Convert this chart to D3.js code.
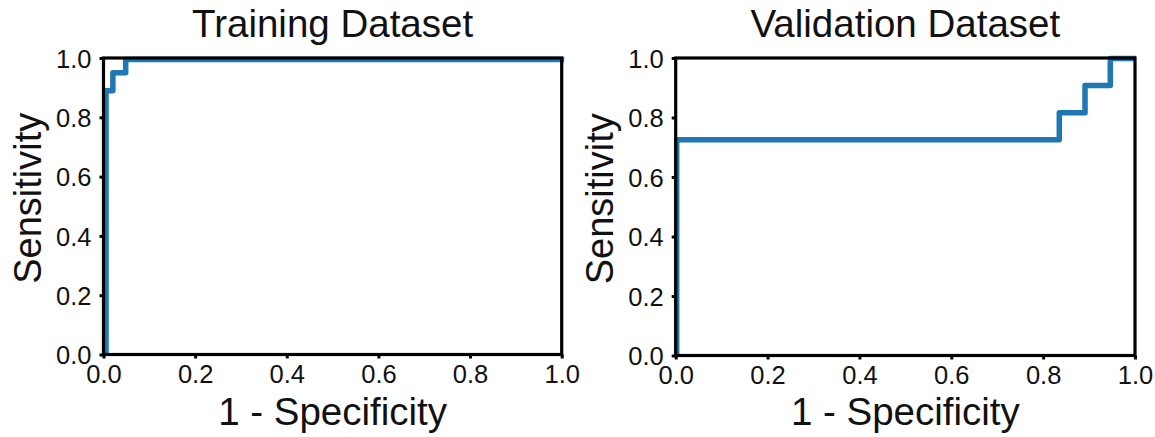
<!DOCTYPE html>
<html><head><meta charset="utf-8">
<script src="https://cdn.jsdelivr.net/npm/d3@7"></script>
<style>
html,body{margin:0;padding:0;background:#fff;}
svg{display:block;font-family:"Liberation Sans",Arial,Helvetica,sans-serif;}
</style></head>
<body><svg id="c" width="1155" height="437"></svg>
<script>
// ---- data ----
const titles = ["Training Dataset", "Validation Dataset"];
const xLabel = "1 - Specificity";
const yLabel = "Sensitivity";
const tickValues = [0, 0.2, 0.4, 0.6, 0.8, 1.0];
const trainFPR = [0, 0, 0.015, 0.015, 0.043, 0.043, 1];
const trainTPR = [0, 0.895, 0.895, 0.955, 0.955, 1, 1];
const validFPR = [0, 0, 0.833, 0.833, 0.889, 0.889, 0.944, 0.944, 1];
const validTPR = [0, 0.727, 0.727, 0.818, 0.818, 0.909, 0.909, 1, 1];

// ---- layout ----
const panels = [
  {fpr: trainFPR, tpr: trainTPR, title: titles[0], x0: 103.5, x1: 561.7, y0: 58, y1: 354.5, ylabX: 41, off: [2.5, 1.5]},
  {fpr: validFPR, tpr: validTPR, title: titles[1], x0: 675.7, x1: 1135, y0: 58, y1: 355.5, ylabX: 613, off: [1, 0.5]}
];
const svg = d3.select("#c");
const blue = "#1f77b4";

panels.forEach(p => {
  const x = d3.scaleLinear().domain([0, 1]).range([p.x0, p.x1]);
  const y = d3.scaleLinear().domain([0, 1]).range([p.y1, p.y0]);
  const g = svg.append("g");
  const pts = p.fpr.map((f, i) => [f, p.tpr[i]]);
  const line = d3.line().x(d => x(d[0])).y(d => y(d[1]));
  g.append("path").attr("d", line(pts))
    .attr("transform", `translate(${p.off[0]},${p.off[1]})`)
    .attr("fill", "none").attr("stroke", blue).attr("stroke-width", 5.5)
    .attr("stroke-linejoin", "round").attr("stroke-linecap", "butt");

  // axes
  const xa = g.append("g").attr("transform", `translate(0,${p.y1})`)
    .call(d3.axisBottom(x).tickValues(tickValues).tickFormat(d3.format(".1f")).tickSize(4).tickPadding(6));
  const ya = g.append("g").attr("transform", `translate(${p.x0},0)`)
    .call(d3.axisLeft(y).tickValues(tickValues).tickFormat(d3.format(".1f")).tickSize(4).tickPadding(8));
  [xa, ya].forEach(a => {
    a.select(".domain").remove();
    a.selectAll(".tick line").attr("stroke", "#000").attr("stroke-width", 3);
    a.selectAll(".tick text").attr("fill", "#111").style("font-size", "25.5px")
      .style("font-family", '"Liberation Sans",Arial,sans-serif');
  });
  ya.selectAll(".tick text").attr("dy", "0.36em");
  xa.selectAll(".tick text").attr("dy", "0.72em");

  // frame
  g.append("rect").attr("x", p.x0).attr("y", p.y0)
    .attr("width", p.x1 - p.x0).attr("height", p.y1 - p.y0)
    .attr("fill", "none").attr("stroke", "#000").attr("stroke-width", 3.2);

  const cx = (p.x0 + p.x1) / 2;
  g.append("text").attr("x", cx).attr("y", 37).attr("text-anchor", "middle")
    .style("font-size", "38.5px").attr("fill", "#111").text(p.title);
  g.append("text").attr("x", cx).attr("y", 425).attr("text-anchor", "middle")
    .style("font-size", "38.5px").attr("fill", "#111").text(xLabel);
  g.append("text").attr("transform", `translate(${p.ylabX},${(p.y0 + p.y1) / 2 - 8}) rotate(-90)`)
    .attr("text-anchor", "middle").style("font-size", "38px").attr("fill", "#111").text(yLabel);
});
</script></body></html>
